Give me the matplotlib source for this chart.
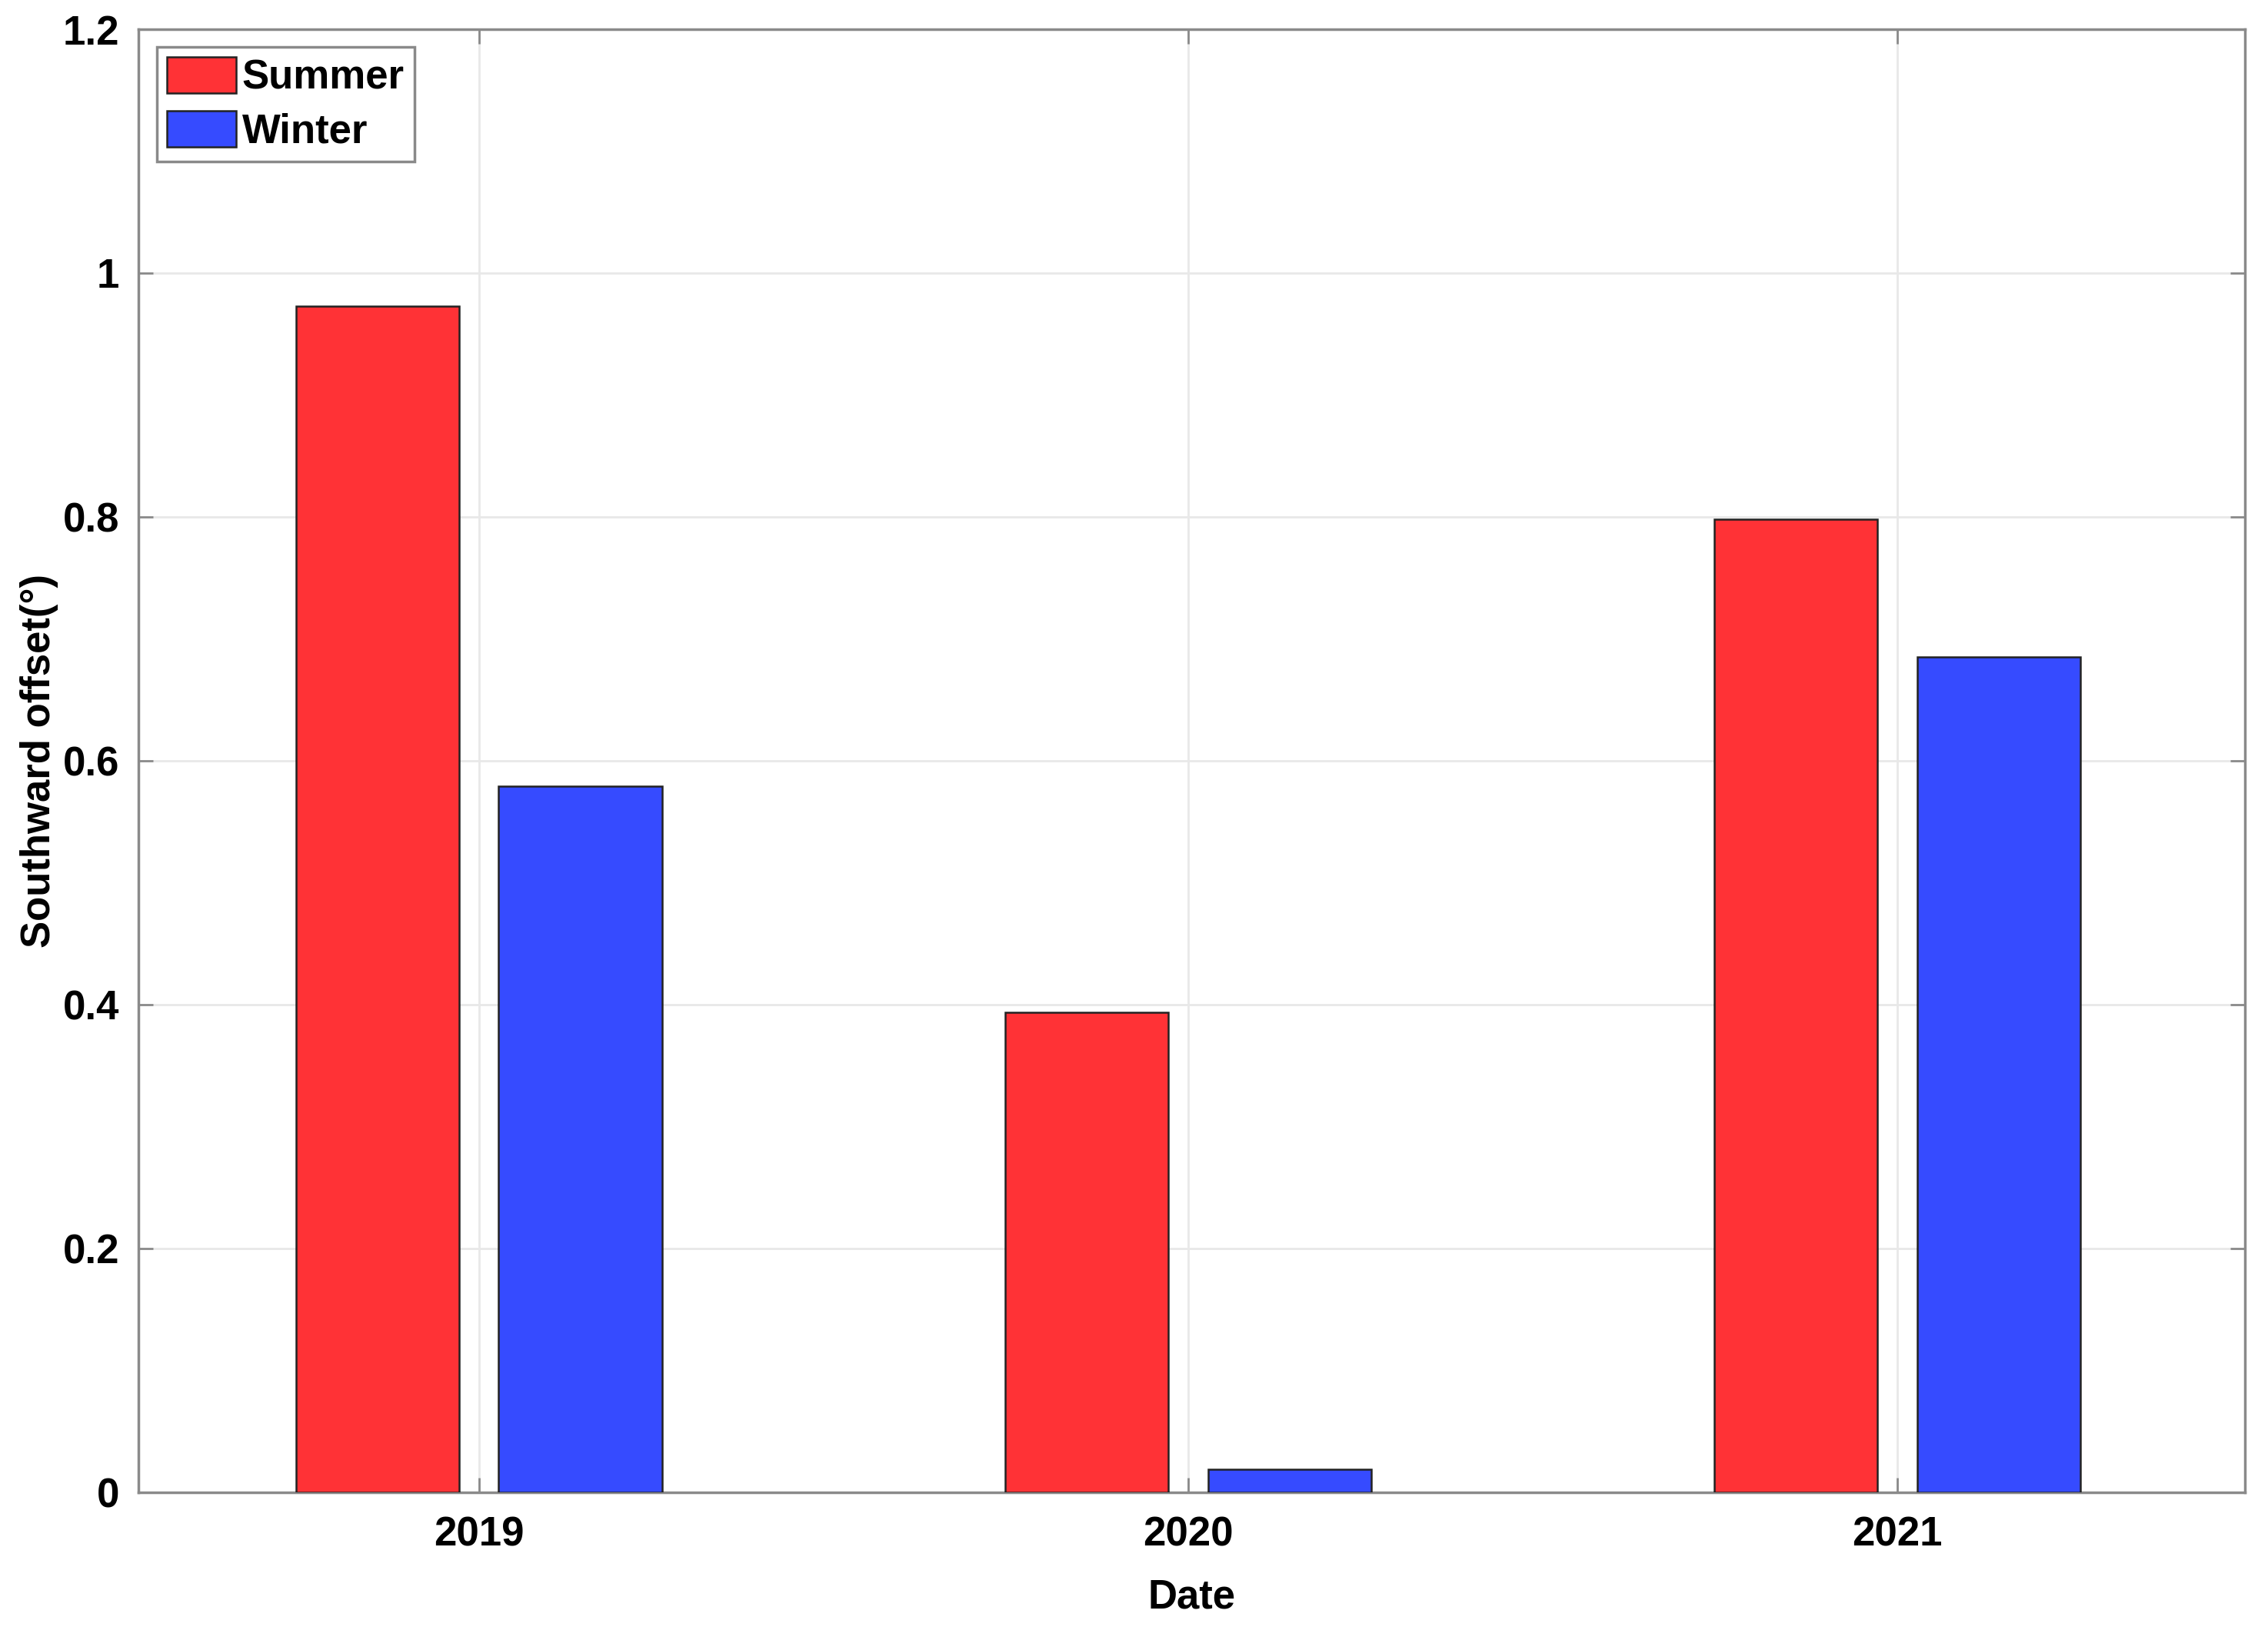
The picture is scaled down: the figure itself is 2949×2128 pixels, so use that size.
import numpy as np
from matplotlib import pyplot as plt

# data
years = [2019, 2020, 2021]
summer = [0.973, 0.394, 0.798]
winter = [0.579, 0.019, 0.685]
yticks = [0, 0.2, 0.4, 0.6, 0.8, 1, 1.2]
ytick_labels = ['0', '0.2', '0.4', '0.6', '0.8', '1', '1.2']

plt.rcParams['font.family'] = ['Liberation Sans', 'DejaVu Sans']
plt.rcParams['font.weight'] = 'bold'

W, H = 2949, 2128
fig = plt.figure(figsize=(W / 100, H / 100), dpi=100)
ax = fig.add_axes([180 / W, 1 - 1940 / H, (2919 - 180) / W, (1940 - 38) / H])

x = np.array(years, dtype=float)
width = 0.23
off = 0.143
ax.bar(x - off, summer, width, color='#ff3236', edgecolor='#222222', linewidth=1.8, label='Summer', zorder=3)
ax.bar(x + off, winter, width, color='#364bff', edgecolor='#222222', linewidth=1.8, label='Winter', zorder=3)

ax.set_xlim(2018.52, 2021.49)
ax.set_ylim(0, 1.2)
ax.set_xticks(years)
ax.set_xticklabels([str(y) for y in years])
ax.set_yticks(yticks)
ax.set_yticklabels(ytick_labels)

ax.grid(True, color='#e8e8e8', linewidth=2, zorder=0)
ax.set_axisbelow(True)
for s in ax.spines.values():
    s.set_color('#8a8a8a')
    s.set_linewidth(2.5)
ax.tick_params(direction='in', length=14, width=2, color='#8a8a8a',
               top=True, right=True, labelsize=38, pad=18)
ax.tick_params(axis='x', pad=22)

ax.set_xlabel('Date', fontsize=38, fontweight='bold', labelpad=22)
ax.set_ylabel('Southward offset(°)', fontsize=38, fontweight='bold', labelpad=4)

leg = ax.legend(loc='upper left', bbox_to_anchor=(204 / W, 1 - 61 / H),
                bbox_transform=fig.transFigure, fontsize=38, frameon=True,
                fancybox=False, edgecolor='#8a8a8a', framealpha=1,
                handlelength=1.7, handleheight=1.0, handletextpad=0.15,
                borderpad=0.25, labelspacing=0.32, borderaxespad=0)
leg.get_frame().set_linewidth(2.5)

fig.savefig('out.png', dpi=100, facecolor='white')
